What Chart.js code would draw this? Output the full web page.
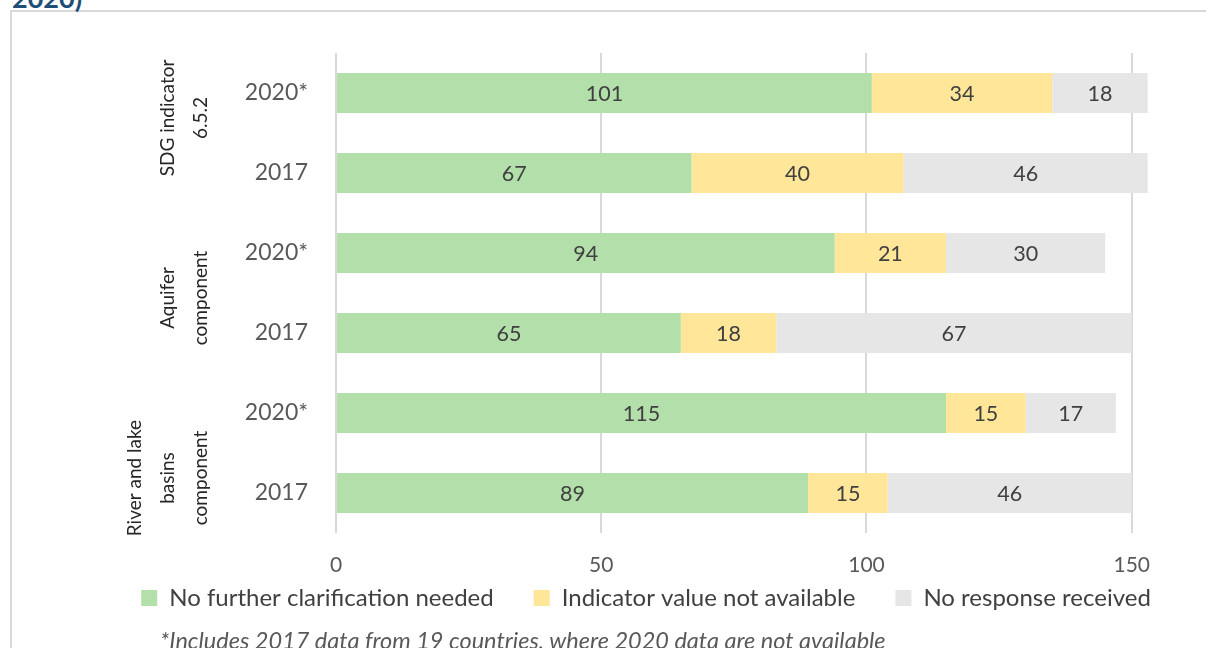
<!DOCTYPE html>
<html><head><meta charset="utf-8">
<script src="https://cdn.jsdelivr.net/npm/chart.js@4/dist/chart.umd.min.js"></script>
<style>
html,body{margin:0;padding:0;background:#fff;overflow:hidden;width:1206px;height:648px;}
#title{position:absolute;left:12px;top:-19px;font:bold 27px Lato, sans-serif;color:#1f4e79;}
#frame{position:absolute;left:10px;top:10px;width:1300px;height:700px;border:2px solid #d9d9d9;box-sizing:border-box;}
#wrap{position:absolute;left:0;top:0;width:1206px;height:648px;}
#note{position:absolute;left:160px;top:629px;font:italic 23.5px/1 Lato, sans-serif;color:#595959;white-space:nowrap;}
</style></head>
<body>
<div id="frame"></div>
<div id="title">2020)</div>
<div id="wrap"><canvas id="c" width="1206" height="648"></canvas></div>
<div id="note">*Includes 2017 data from 19 countries, where 2020 data are not available</div>
<script>
const categories = ['2020*', '2017', '2020*', '2017', '2020*', '2017'];
const groupLabels = [['SDG indicator', '6.5.2'], ['Aquifer', 'component'], ['River and lake', 'basins', 'component']];
const seriesNames = ['No further clarification needed', 'Indicator value not available', 'No response received'];
const noFurtherClarification = [101, 67, 94, 65, 115, 89];
const valueNotAvailable = [34, 40, 21, 18, 15, 15];
const noResponse = [18, 46, 30, 67, 17, 46];
const xTickValues = [0, 50, 100, 150];
const colors = ['#b3dfaa', '#ffe699', '#e6e6e6'];

const FONT = 'Lato, sans-serif';
const LEGEND_FONT = 24;
const LEGEND_PAD = 40;

const valueLabels = {
  id: 'valueLabels',
  afterDatasetsDraw(chart) {
    const ctx = chart.ctx;
    ctx.save();
    ctx.font = '21.5px ' + FONT;
    ctx.fillStyle = '#404040';
    ctx.textAlign = 'center';
    ctx.textBaseline = 'middle';
    chart.data.datasets.forEach((ds, i) => {
      chart.getDatasetMeta(i).data.forEach((el, j) => {
        const cx = (el.x + el.base) / 2;
        ctx.fillText(String(ds.data[j]), cx, el.y + 1);
      });
    });
    ctx.restore();
  }
};

const groupLabelPlugin = {
  id: 'groupLabels',
  afterDraw(chart) {
    const ctx = chart.ctx;
    const y = chart.scales.y;
    const lastX = chart.chartArea.left - 135;
    const shift = [-15, 5, 25];
    ctx.save();
    ctx.font = '19px ' + FONT;
    ctx.fillStyle = '#262626';
    ctx.textAlign = 'center';
    ctx.textBaseline = 'middle';
    groupLabels.forEach((lines, g) => {
      const cy = (y.getPixelForValue(2 * g) + y.getPixelForValue(2 * g + 1)) / 2 + shift[g];
      lines.forEach((t, k) => {
        const x = lastX - (lines.length - 1 - k) * 33;
        ctx.save();
        ctx.translate(x, cy);
        ctx.rotate(-Math.PI / 2);
        ctx.fillText(t, 0, 0);
        ctx.restore();
      });
    });
    ctx.restore();
  }
};

const legendPlace = {
  id: 'legendPlace',
  afterLayout(chart) {
    const lg = chart.legend;
    if (!lg || !lg.lineWidths) return;
    const start = (lg.left + LEGEND_PAD + lg.right - lg.lineWidths[0]) / 2;
    const want = 646 - (lg.lineWidths[0] - LEGEND_PAD) / 2;
    const dx = want - start;
    const dy = 598 - (lg.top + LEGEND_PAD + LEGEND_FONT / 2);
    lg.left += dx; lg.right += dx; lg.top += dy; lg.bottom += dy;
  }
};

new Chart(document.getElementById('c'), {
  type: 'bar',
  data: {
    labels: categories,
    datasets: [
      { label: seriesNames[0], data: noFurtherClarification, backgroundColor: colors[0] },
      { label: seriesNames[1], data: valueNotAvailable, backgroundColor: colors[1] },
      { label: seriesNames[2], data: noResponse, backgroundColor: colors[2] }
    ]
  },
  options: {
    indexAxis: 'y',
    responsive: false,
    animation: false,
    devicePixelRatio: 1,
    categoryPercentage: 0.5,
    barPercentage: 1,
    layout: { padding: { left: 0, right: 0, top: 53, bottom: 0 } },
    scales: {
      x: {
        stacked: true,
        min: 0,
        max: 164,
        afterBuildTicks(scale) { scale.ticks = xTickValues.map(v => ({ value: v })); },
        afterFit(scale) { scale.height = 50; },
        grid: { color: '#d9d9d9', lineWidth: 2, drawTicks: false },
        border: { display: false },
        ticks: { font: { family: FONT, size: 21 }, color: '#595959', padding: 20 }
      },
      y: {
        stacked: true,
        afterFit(scale) { scale.width = 336; },
        grid: { display: false, drawTicks: false },
        border: { display: false },
        ticks: { font: { family: FONT, size: 23 }, color: '#595959', padding: 28 }
      }
    },
    plugins: {
      legend: {
        position: 'bottom',
        maxHeight: 65,
        labels: { boxWidth: 16, boxHeight: 16, font: { family: FONT, size: LEGEND_FONT }, color: '#404040', padding: LEGEND_PAD }
      },
      tooltip: { enabled: false }
    }
  },
  plugins: [valueLabels, groupLabelPlugin, legendPlace]
});
</script>
</body></html>
